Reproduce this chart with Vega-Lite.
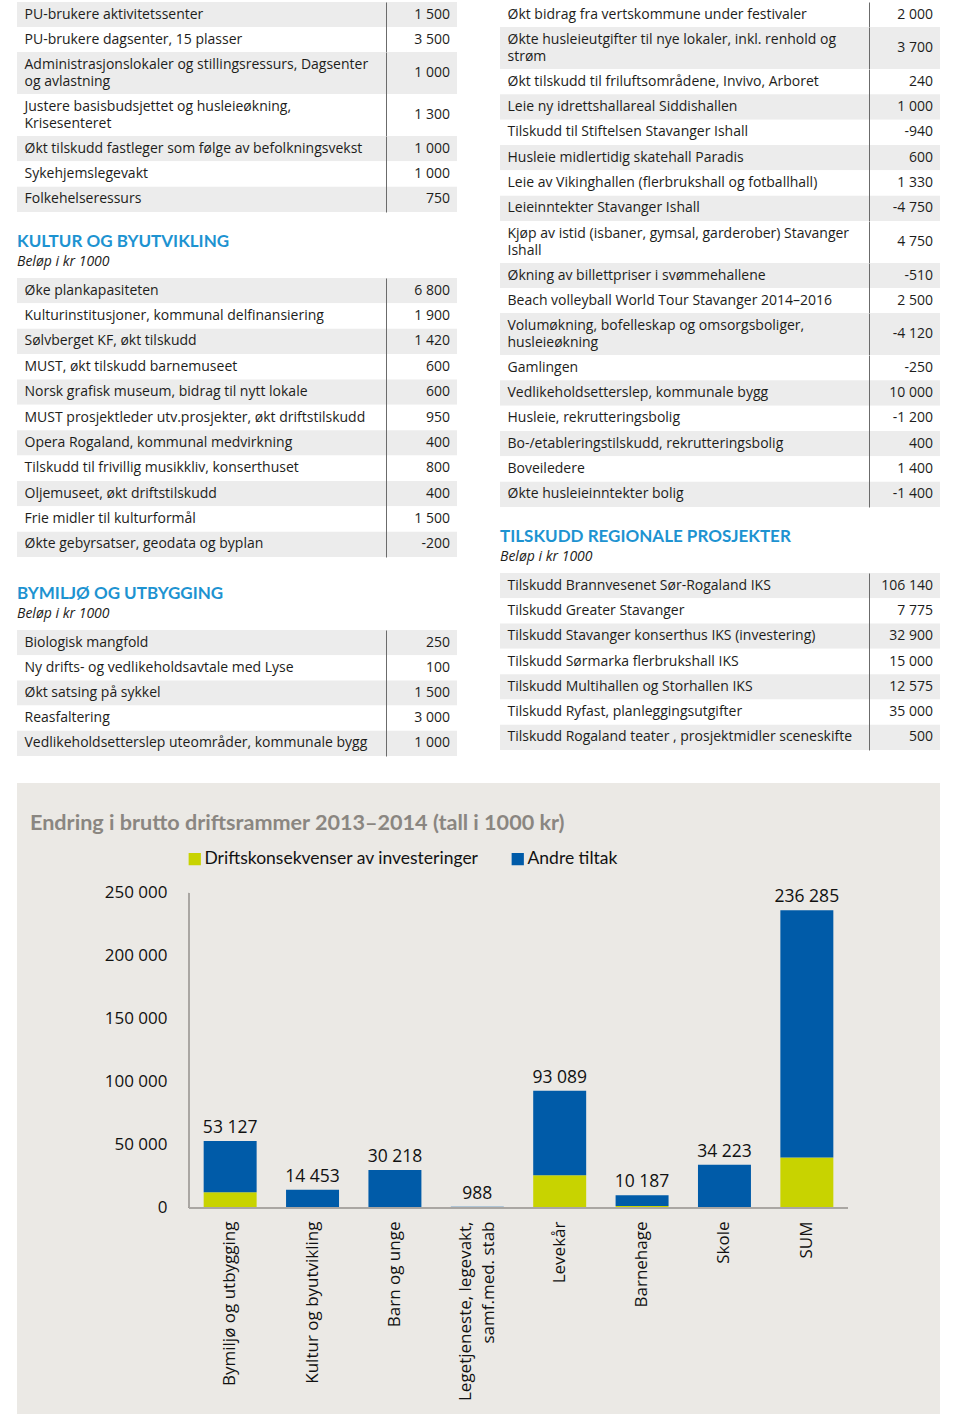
{
  "$schema": "https://vega.github.io/schema/vega-lite/v6.json",
  "padding": {"left": 17, "top": 2, "right": 0, "bottom": 0},
  "spacing": 27,
  "config": {
    "view": {"stroke": null},
    "font": "Open Sans",
    "locale": {"number": {"decimal": ",", "thousands": " ", "grouping": [3], "currency": ["", ""], "minus": "-"}},
    "axisLeft": {"title": null, "domain": false, "ticks": false, "tickSize": 0, "labelAlign": "left", "labelPadding": -7, "labelLimit": 0, "labelFontSize": 14, "labelColor": "#1d1d1b", "labelLineHeight": 17, "labelExpr": "split(datum.label, '\\n')", "labelOffset": {"condition": {"test": "indexof(datum.value, '\\n') >= 0", "value": -8.5}, "value": 0}},
    "axisRight": {"offset": -71, "title": null, "labels": false, "ticks": false, "domain": true, "domainColor": "#6b6b6b"},
    "title": {"anchor": "start", "frame": "group", "offset": 8, "fontSize": 17, "font": "Lato", "fontWeight": "bold", "color": "#1d93d1", "subtitleFont": "Open Sans", "subtitleFontStyle": "italic", "subtitleFontSize": 14, "subtitleColor": "#1d1d1b", "subtitlePadding": 4}
  },
  "datasets": {
    "t1": [
      {"post": "PU-brukere aktivitetssenter", "belop": 1500},
      {"post": "PU-brukere dagsenter, 15 plasser", "belop": 3500},
      {"post": "Administrasjonslokaler og stillingsressurs, Dagsenter\nog avlastning", "belop": 1000},
      {"post": "Justere basisbudsjettet og husleieøkning,\nKrisesenteret", "belop": 1300},
      {"post": "Økt tilskudd fastleger som følge av befolkningsvekst", "belop": 1000},
      {"post": "Sykehjemslegevakt", "belop": 1000},
      {"post": "Folkehelseressurs", "belop": 750}
    ],
    "t2": [
      {"post": "Øke plankapasiteten", "belop": 6800},
      {"post": "Kulturinstitusjoner, kommunal delfinansiering", "belop": 1900},
      {"post": "Sølvberget KF, økt tilskudd", "belop": 1420},
      {"post": "MUST, økt tilskudd barnemuseet", "belop": 600},
      {"post": "Norsk grafisk museum, bidrag til nytt lokale", "belop": 600},
      {"post": "MUST prosjektleder utv.prosjekter, økt driftstilskudd", "belop": 950},
      {"post": "Opera Rogaland, kommunal medvirkning", "belop": 400},
      {"post": "Tilskudd til frivillig musikkliv, konserthuset", "belop": 800},
      {"post": "Oljemuseet, økt driftstilskudd", "belop": 400},
      {"post": "Frie midler til kulturformål", "belop": 1500},
      {"post": "Økte gebyrsatser, geodata og byplan", "belop": -200}
    ],
    "t3": [
      {"post": "Biologisk mangfold", "belop": 250},
      {"post": "Ny drifts- og vedlikeholdsavtale med Lyse", "belop": 100},
      {"post": "Økt satsing på sykkel", "belop": 1500},
      {"post": "Reasfaltering", "belop": 3000},
      {"post": "Vedlikeholdsetterslep uteområder, kommunale bygg", "belop": 1000}
    ],
    "t4": [
      {"post": "Økt bidrag fra vertskommune under festivaler", "belop": 2000},
      {"post": "Økte husleieutgifter til nye lokaler, inkl. renhold og\nstrøm", "belop": 3700},
      {"post": "Økt tilskudd til friluftsområdene, Invivo, Arboret", "belop": 240},
      {"post": "Leie ny idrettshallareal Siddishallen", "belop": 1000},
      {"post": "Tilskudd til Stiftelsen Stavanger Ishall", "belop": -940},
      {"post": "Husleie midlertidig skatehall Paradis", "belop": 600},
      {"post": "Leie av Vikinghallen (flerbrukshall og fotballhall)", "belop": 1330},
      {"post": "Leieinntekter Stavanger Ishall", "belop": -4750},
      {"post": "Kjøp av istid (isbaner, gymsal, garderober) Stavanger\nIshall", "belop": 4750},
      {"post": "Økning av billettpriser i svømmehallene", "belop": -510},
      {"post": "Beach volleyball World Tour Stavanger 2014–2016", "belop": 2500},
      {"post": "Volumøkning, bofelleskap og omsorgsboliger,\nhusleieøkning", "belop": -4120},
      {"post": "Gamlingen", "belop": -250},
      {"post": "Vedlikeholdsetterslep, kommunale bygg", "belop": 10000},
      {"post": "Husleie, rekrutteringsbolig", "belop": -1200},
      {"post": "Bo-/etableringstilskudd, rekrutteringsbolig", "belop": 400},
      {"post": "Boveiledere", "belop": 1400},
      {"post": "Økte husleieinntekter bolig", "belop": -1400}
    ],
    "t5": [
      {"post": "Tilskudd Brannvesenet Sør-Rogaland IKS", "belop": 106140},
      {"post": "Tilskudd Greater Stavanger", "belop": 7775},
      {"post": "Tilskudd Stavanger konserthus IKS (investering)", "belop": 32900},
      {"post": "Tilskudd Sørmarka flerbrukshall IKS", "belop": 15000},
      {"post": "Tilskudd Multihallen og Storhallen IKS", "belop": 12575},
      {"post": "Tilskudd Ryfast, planleggingsutgifter", "belop": 35000},
      {"post": "Tilskudd Rogaland teater , prosjektmidler sceneskifte", "belop": 500}
    ],
    "bars": [
      {"kategori": "Bymiljø og utbygging", "type": "Driftskonsekvenser av investeringer", "verdi": 12500},
      {"kategori": "Bymiljø og utbygging", "type": "Andre tiltak", "verdi": 40627},
      {"kategori": "Kultur og byutvikling", "type": "Andre tiltak", "verdi": 14453},
      {"kategori": "Barn og unge", "type": "Andre tiltak", "verdi": 30218},
      {"kategori": "Legetjeneste, legevakt, samf.med. stab", "type": "Andre tiltak", "verdi": 988},
      {"kategori": "Levekår", "type": "Driftskonsekvenser av investeringer", "verdi": 26000},
      {"kategori": "Levekår", "type": "Andre tiltak", "verdi": 67089},
      {"kategori": "Barnehage", "type": "Driftskonsekvenser av investeringer", "verdi": 1500},
      {"kategori": "Barnehage", "type": "Andre tiltak", "verdi": 8687},
      {"kategori": "Skole", "type": "Andre tiltak", "verdi": 34223},
      {"kategori": "SUM", "type": "Driftskonsekvenser av investeringer", "verdi": 40000},
      {"kategori": "SUM", "type": "Andre tiltak", "verdi": 196285}
    ]
  },
  "vconcat": [
    {
      "hconcat": [
        {
          "spacing": 28,
          "vconcat": [
            {
              "spacing": 21,
              "vconcat": [
                {
                  "spacing": 0,
                  "vconcat": [
                    {"width": 440, "height": 50, "data": {"name": "t1"},
                     "transform": [{"window": [{"op": "row_number", "as": "nr"}]}, {"filter": "datum.nr <= 2"}],
                     "layer": [
                       {"mark": {"type": "rect"}, "encoding": {"y": {"field": "post", "type": "nominal", "sort": null, "scale": {"paddingInner": 0, "paddingOuter": 0}, "axis": {"orient": "left", "zindex": 1}}, "color": {"condition": {"test": "datum.nr % 2 == 1", "value": "#ececec"}, "value": "#ffffff"}}},
                       {"mark": {"type": "text", "align": "right", "baseline": "middle", "dx": -7, "fontSize": 14, "color": "#1d1d1b"}, "encoding": {"y": {"field": "post", "type": "nominal", "sort": null, "axis": {"orient": "right", "zindex": 1}}, "x": {"datum": 1, "type": "quantitative", "scale": {"domain": [0, 1]}, "axis": null}, "text": {"field": "belop", "type": "quantitative", "format": ",d"}}}
                     ],
                     "resolve": {"axis": {"y": "independent"}}},
                    {"width": 440, "height": 84, "data": {"name": "t1"},
                     "transform": [{"window": [{"op": "row_number", "as": "nr"}]}, {"filter": "datum.nr >= 3 && datum.nr <= 4"}],
                     "layer": [
                       {"mark": {"type": "rect"}, "encoding": {"y": {"field": "post", "type": "nominal", "sort": null, "scale": {"paddingInner": 0, "paddingOuter": 0}, "axis": {"orient": "left", "zindex": 1}}, "color": {"condition": {"test": "datum.nr % 2 == 1", "value": "#ececec"}, "value": "#ffffff"}}},
                       {"mark": {"type": "text", "align": "right", "baseline": "middle", "dx": -7, "fontSize": 14, "color": "#1d1d1b"}, "encoding": {"y": {"field": "post", "type": "nominal", "sort": null, "axis": {"orient": "right", "zindex": 1}}, "x": {"datum": 1, "type": "quantitative", "scale": {"domain": [0, 1]}, "axis": null}, "text": {"field": "belop", "type": "quantitative", "format": ",d"}}}
                     ],
                     "resolve": {"axis": {"y": "independent"}}},
                    {"width": 440, "height": 76, "data": {"name": "t1"},
                     "transform": [{"window": [{"op": "row_number", "as": "nr"}]}, {"filter": "datum.nr >= 5"}],
                     "layer": [
                       {"mark": {"type": "rect"}, "encoding": {"y": {"field": "post", "type": "nominal", "sort": null, "scale": {"paddingInner": 0, "paddingOuter": 0}, "axis": {"orient": "left", "zindex": 1}}, "color": {"condition": {"test": "datum.nr % 2 == 1", "value": "#ececec"}, "value": "#ffffff"}}},
                       {"mark": {"type": "text", "align": "right", "baseline": "middle", "dx": -7, "fontSize": 14, "color": "#1d1d1b"}, "encoding": {"y": {"field": "post", "type": "nominal", "sort": null, "axis": {"orient": "right", "zindex": 1}}, "x": {"datum": 1, "type": "quantitative", "scale": {"domain": [0, 1]}, "axis": null}, "text": {"field": "belop", "type": "quantitative", "format": ",d"}}}
                     ],
                     "resolve": {"axis": {"y": "independent"}}}
                  ]
                },
                {
                  "width": 440, "height": 279,
                  "title": {"text": "KULTUR OG BYUTVIKLING", "subtitle": "Beløp i kr 1000"},
                  "data": {"name": "t2"},
                  "transform": [{"window": [{"op": "row_number", "as": "nr"}]}],
                  "layer": [
                    {"mark": {"type": "rect"}, "encoding": {"y": {"field": "post", "type": "nominal", "sort": null, "scale": {"paddingInner": 0, "paddingOuter": 0}, "axis": {"orient": "left", "zindex": 1}}, "color": {"condition": {"test": "datum.nr % 2 == 1", "value": "#ececec"}, "value": "#ffffff"}}},
                    {"mark": {"type": "text", "align": "right", "baseline": "middle", "dx": -7, "fontSize": 14, "color": "#1d1d1b"}, "encoding": {"y": {"field": "post", "type": "nominal", "sort": null, "axis": {"orient": "right", "zindex": 1}}, "x": {"datum": 1, "type": "quantitative", "scale": {"domain": [0, 1]}, "axis": null}, "text": {"field": "belop", "type": "quantitative", "format": ",d"}}}
                  ],
                  "resolve": {"axis": {"y": "independent"}}
                }
              ]
            },
            {
              "width": 440, "height": 126,
              "title": {"text": "BYMILJØ OG UTBYGGING", "subtitle": "Beløp i kr 1000"},
              "data": {"name": "t3"},
              "transform": [{"window": [{"op": "row_number", "as": "nr"}]}],
              "layer": [
                {"mark": {"type": "rect"}, "encoding": {"y": {"field": "post", "type": "nominal", "sort": null, "scale": {"paddingInner": 0, "paddingOuter": 0}, "axis": {"orient": "left", "zindex": 1}}, "color": {"condition": {"test": "datum.nr % 2 == 1", "value": "#ececec"}, "value": "#ffffff"}}},
                {"mark": {"type": "text", "align": "right", "baseline": "middle", "dx": -7, "fontSize": 14, "color": "#1d1d1b"}, "encoding": {"y": {"field": "post", "type": "nominal", "sort": null, "axis": {"orient": "right", "zindex": 1}}, "x": {"datum": 1, "type": "quantitative", "scale": {"domain": [0, 1]}, "axis": null}, "text": {"field": "belop", "type": "quantitative", "format": ",d"}}}
              ],
              "resolve": {"axis": {"y": "independent"}}
            }
          ]
        },
        {
          "spacing": 21,
          "vconcat": [
            {
              "spacing": 0,
              "vconcat": [
                {"width": 440, "height": 25, "data": {"name": "t4"},
                 "transform": [{"window": [{"op": "row_number", "as": "nr"}]}, {"filter": "datum.nr == 1"}],
                 "layer": [
                   {"mark": {"type": "rect"}, "encoding": {"y": {"field": "post", "type": "nominal", "sort": null, "scale": {"paddingInner": 0, "paddingOuter": 0}, "axis": {"orient": "left", "zindex": 1}}, "color": {"condition": {"test": "datum.nr % 2 == 0", "value": "#ececec"}, "value": "#ffffff"}}},
                   {"mark": {"type": "text", "align": "right", "baseline": "middle", "dx": -7, "fontSize": 14, "color": "#1d1d1b"}, "encoding": {"y": {"field": "post", "type": "nominal", "sort": null, "axis": {"orient": "right", "zindex": 1}}, "x": {"datum": 1, "type": "quantitative", "scale": {"domain": [0, 1]}, "axis": null}, "text": {"field": "belop", "type": "quantitative", "format": ",d"}}}
                 ],
                 "resolve": {"axis": {"y": "independent"}}},
                {"width": 440, "height": 42, "data": {"name": "t4"},
                 "transform": [{"window": [{"op": "row_number", "as": "nr"}]}, {"filter": "datum.nr == 2"}],
                 "layer": [
                   {"mark": {"type": "rect"}, "encoding": {"y": {"field": "post", "type": "nominal", "sort": null, "scale": {"paddingInner": 0, "paddingOuter": 0}, "axis": {"orient": "left", "zindex": 1}}, "color": {"condition": {"test": "datum.nr % 2 == 0", "value": "#ececec"}, "value": "#ffffff"}}},
                   {"mark": {"type": "text", "align": "right", "baseline": "middle", "dx": -7, "fontSize": 14, "color": "#1d1d1b"}, "encoding": {"y": {"field": "post", "type": "nominal", "sort": null, "axis": {"orient": "right", "zindex": 1}}, "x": {"datum": 1, "type": "quantitative", "scale": {"domain": [0, 1]}, "axis": null}, "text": {"field": "belop", "type": "quantitative", "format": ",d"}}}
                 ],
                 "resolve": {"axis": {"y": "independent"}}},
                {"width": 440, "height": 152, "data": {"name": "t4"},
                 "transform": [{"window": [{"op": "row_number", "as": "nr"}]}, {"filter": "datum.nr >= 3 && datum.nr <= 8"}],
                 "layer": [
                   {"mark": {"type": "rect"}, "encoding": {"y": {"field": "post", "type": "nominal", "sort": null, "scale": {"paddingInner": 0, "paddingOuter": 0}, "axis": {"orient": "left", "zindex": 1}}, "color": {"condition": {"test": "datum.nr % 2 == 0", "value": "#ececec"}, "value": "#ffffff"}}},
                   {"mark": {"type": "text", "align": "right", "baseline": "middle", "dx": -7, "fontSize": 14, "color": "#1d1d1b"}, "encoding": {"y": {"field": "post", "type": "nominal", "sort": null, "axis": {"orient": "right", "zindex": 1}}, "x": {"datum": 1, "type": "quantitative", "scale": {"domain": [0, 1]}, "axis": null}, "text": {"field": "belop", "type": "quantitative", "format": ",d"}}}
                 ],
                 "resolve": {"axis": {"y": "independent"}}},
                {"width": 440, "height": 42, "data": {"name": "t4"},
                 "transform": [{"window": [{"op": "row_number", "as": "nr"}]}, {"filter": "datum.nr == 9"}],
                 "layer": [
                   {"mark": {"type": "rect"}, "encoding": {"y": {"field": "post", "type": "nominal", "sort": null, "scale": {"paddingInner": 0, "paddingOuter": 0}, "axis": {"orient": "left", "zindex": 1}}, "color": {"condition": {"test": "datum.nr % 2 == 0", "value": "#ececec"}, "value": "#ffffff"}}},
                   {"mark": {"type": "text", "align": "right", "baseline": "middle", "dx": -7, "fontSize": 14, "color": "#1d1d1b"}, "encoding": {"y": {"field": "post", "type": "nominal", "sort": null, "axis": {"orient": "right", "zindex": 1}}, "x": {"datum": 1, "type": "quantitative", "scale": {"domain": [0, 1]}, "axis": null}, "text": {"field": "belop", "type": "quantitative", "format": ",d"}}}
                 ],
                 "resolve": {"axis": {"y": "independent"}}},
                {"width": 440, "height": 50, "data": {"name": "t4"},
                 "transform": [{"window": [{"op": "row_number", "as": "nr"}]}, {"filter": "datum.nr >= 10 && datum.nr <= 11"}],
                 "layer": [
                   {"mark": {"type": "rect"}, "encoding": {"y": {"field": "post", "type": "nominal", "sort": null, "scale": {"paddingInner": 0, "paddingOuter": 0}, "axis": {"orient": "left", "zindex": 1}}, "color": {"condition": {"test": "datum.nr % 2 == 0", "value": "#ececec"}, "value": "#ffffff"}}},
                   {"mark": {"type": "text", "align": "right", "baseline": "middle", "dx": -7, "fontSize": 14, "color": "#1d1d1b"}, "encoding": {"y": {"field": "post", "type": "nominal", "sort": null, "axis": {"orient": "right", "zindex": 1}}, "x": {"datum": 1, "type": "quantitative", "scale": {"domain": [0, 1]}, "axis": null}, "text": {"field": "belop", "type": "quantitative", "format": ",d"}}}
                 ],
                 "resolve": {"axis": {"y": "independent"}}},
                {"width": 440, "height": 42, "data": {"name": "t4"},
                 "transform": [{"window": [{"op": "row_number", "as": "nr"}]}, {"filter": "datum.nr == 12"}],
                 "layer": [
                   {"mark": {"type": "rect"}, "encoding": {"y": {"field": "post", "type": "nominal", "sort": null, "scale": {"paddingInner": 0, "paddingOuter": 0}, "axis": {"orient": "left", "zindex": 1}}, "color": {"condition": {"test": "datum.nr % 2 == 0", "value": "#ececec"}, "value": "#ffffff"}}},
                   {"mark": {"type": "text", "align": "right", "baseline": "middle", "dx": -7, "fontSize": 14, "color": "#1d1d1b"}, "encoding": {"y": {"field": "post", "type": "nominal", "sort": null, "axis": {"orient": "right", "zindex": 1}}, "x": {"datum": 1, "type": "quantitative", "scale": {"domain": [0, 1]}, "axis": null}, "text": {"field": "belop", "type": "quantitative", "format": ",d"}}}
                 ],
                 "resolve": {"axis": {"y": "independent"}}},
                {"width": 440, "height": 152, "data": {"name": "t4"},
                 "transform": [{"window": [{"op": "row_number", "as": "nr"}]}, {"filter": "datum.nr >= 13"}],
                 "layer": [
                   {"mark": {"type": "rect"}, "encoding": {"y": {"field": "post", "type": "nominal", "sort": null, "scale": {"paddingInner": 0, "paddingOuter": 0}, "axis": {"orient": "left", "zindex": 1}}, "color": {"condition": {"test": "datum.nr % 2 == 0", "value": "#ececec"}, "value": "#ffffff"}}},
                   {"mark": {"type": "text", "align": "right", "baseline": "middle", "dx": -7, "fontSize": 14, "color": "#1d1d1b"}, "encoding": {"y": {"field": "post", "type": "nominal", "sort": null, "axis": {"orient": "right", "zindex": 1}}, "x": {"datum": 1, "type": "quantitative", "scale": {"domain": [0, 1]}, "axis": null}, "text": {"field": "belop", "type": "quantitative", "format": ",d"}}}
                 ],
                 "resolve": {"axis": {"y": "independent"}}}
              ]
            },
            {
              "width": 440, "height": 177,
              "title": {"text": "TILSKUDD REGIONALE PROSJEKTER", "subtitle": "Beløp i kr 1000"},
              "data": {"name": "t5"},
              "transform": [{"window": [{"op": "row_number", "as": "nr"}]}],
              "layer": [
                {"mark": {"type": "rect"}, "encoding": {"y": {"field": "post", "type": "nominal", "sort": null, "scale": {"paddingInner": 0, "paddingOuter": 0}, "axis": {"orient": "left", "zindex": 1}}, "color": {"condition": {"test": "datum.nr % 2 == 1", "value": "#ececec"}, "value": "#ffffff"}}},
                {"mark": {"type": "text", "align": "right", "baseline": "middle", "dx": -7, "fontSize": 14, "color": "#1d1d1b"}, "encoding": {"y": {"field": "post", "type": "nominal", "sort": null, "axis": {"orient": "right", "zindex": 1}}, "x": {"datum": 1, "type": "quantitative", "scale": {"domain": [0, 1]}, "axis": null}, "text": {"field": "belop", "type": "quantitative", "format": ",d"}}}
              ],
              "resolve": {"axis": {"y": "independent"}}
            }
          ]
        }
      ],
      "spacing": 43
    },
    {
      "width": 923, "height": 631,
      "view": {"fill": "#ebe9e5", "stroke": null},
      "title": {"text": "Endring i brutto driftsrammer 2013–2014 (tall i 1000 kr)", "anchor": "start", "frame": "group", "offset": -52, "dx": 13, "fontSize": 21.6, "font": "Lato", "fontWeight": "bold", "color": "#8a8681"},
      "data": {"name": "bars"},
      "layer": [
        {
          "mark": {"type": "bar"},
          "encoding": {
            "x": {"field": "kategori", "type": "nominal", "sort": null,
                  "scale": {"range": [172, 831], "paddingInner": 0.357, "paddingOuter": 0.178},
                  "axis": {"orient": "bottom", "offset": -206, "title": null, "domain": false, "ticks": false, "labelAngle": -90, "labelAlign": "right", "labelBaseline": "middle", "labelPadding": 13, "labelFontSize": 17, "labelColor": "#111111", "labelLimit": 0, "labelLineHeight": 23, "labelExpr": "indexof(datum.label, 'samf') > 0 ? ['Legetjeneste, legevakt,', 'samf.med. stab'] : datum.label", "labelOffset": {"condition": {"test": "indexof(datum.value, 'samf') > 0", "value": -11}, "value": 0}, "zindex": 1}},
            "y": {"field": "verdi", "type": "quantitative", "stack": "zero",
                  "scale": {"domain": [-163500, 337300], "nice": false, "zero": false},
                  "axis": {"orient": "left", "offset": -150, "title": null, "values": [0, 50000, 100000, 150000, 200000, 250000], "format": ",d", "domain": false, "ticks": false, "grid": false, "labelAlign": "right", "labelPadding": 0, "labelFontSize": 17, "labelColor": "#111111", "labelExpr": "datum.label", "labelOffset": 0, "zindex": 1}},
            "color": {"field": "type", "type": "nominal",
                      "scale": {"domain": ["Driftskonsekvenser av investeringer", "Andre tiltak"], "range": ["#c8d300", "#005ba8"]},
                      "legend": {"orient": "none", "legendX": 169, "legendY": 848, "direction": "horizontal", "title": null, "symbolType": "square", "symbolSize": 150, "symbolStrokeWidth": 0, "labelFontSize": 17.5, "labelFont": "Lato", "labelColor": "#111111", "labelOffset": 1, "columnPadding": 30, "labelLimit": 0}},
            "order": {"field": "type", "sort": "descending"}
          }
        },
        {
          "transform": [{"aggregate": [{"op": "sum", "field": "verdi", "as": "total"}], "groupby": ["kategori"]}],
          "mark": {"type": "text", "baseline": "bottom", "dy": -4, "fontSize": 17.5, "color": "#111111"},
          "encoding": {
            "x": {"field": "kategori", "type": "nominal", "sort": null},
            "y": {"field": "total", "type": "quantitative"},
            "text": {"field": "total", "type": "quantitative", "format": ",d"}
          }
        },
        {
          "mark": {"type": "rule", "color": "#a9a6a2", "strokeWidth": 1},
          "encoding": {
            "x": {"datum": "Bymiljø og utbygging", "type": "nominal", "bandPosition": -0.277},
            "y": {"datum": 0, "type": "quantitative"},
            "y2": {"datum": 250000}
          }
        },
        {
          "mark": {"type": "rule", "color": "#a9a6a2", "strokeWidth": 1},
          "encoding": {
            "x": {"datum": "Bymiljø og utbygging", "type": "nominal", "bandPosition": -0.277},
            "x2": {"datum": "SUM", "bandPosition": 1.274},
            "y": {"datum": 0, "type": "quantitative"}
          }
        }
      ]
    }
  ]
}
